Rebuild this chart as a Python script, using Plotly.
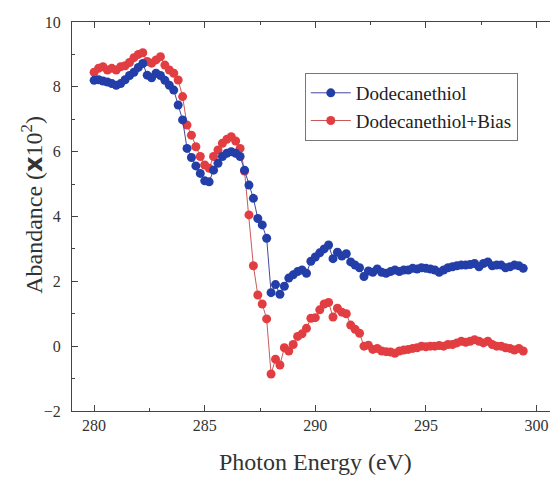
import plotly.graph_objects as go

energy = [280.0, 280.2, 280.4, 280.6, 280.8, 281.0, 281.2, 281.4, 281.6, 281.8,
          282.0, 282.2, 282.4, 282.6, 282.8, 283.0, 283.2, 283.4, 283.6, 283.8,
          284.0, 284.2, 284.4, 284.6, 284.8, 285.0, 285.2, 285.4, 285.6, 285.8,
          286.0, 286.2, 286.4, 286.6, 286.8, 287.0, 287.2, 287.4, 287.6, 287.8,
          288.0, 288.2, 288.4, 288.6, 288.8, 289.0, 289.2, 289.4, 289.6, 289.8,
          290.0, 290.2, 290.4, 290.6, 290.8, 291.0, 291.2, 291.4, 291.6, 291.8,
          292.0, 292.2, 292.4, 292.6, 292.8, 293.0, 293.2, 293.4, 293.6, 293.8,
          294.0, 294.2, 294.4, 294.6, 294.8, 295.0, 295.2, 295.4, 295.6, 295.8,
          296.0, 296.2, 296.4, 296.6, 296.8, 297.0, 297.2, 297.4, 297.6, 297.8,
          298.0, 298.2, 298.4, 298.6, 298.8, 299.0, 299.2, 299.4]

dodecanethiol = [8.20, 8.22, 8.18, 8.15, 8.10, 8.05, 8.10, 8.22, 8.35, 8.45,
                 8.60, 8.72, 8.36, 8.28, 8.42, 8.35, 8.20, 8.05, 7.90, 7.44,
                 6.98, 6.10, 5.82, 5.56, 5.33, 5.10, 5.07, 5.43, 5.64, 5.85,
                 5.95, 6.00, 5.95, 5.85, 5.43, 4.97, 4.56, 3.94, 3.74, 3.33,
                 1.65, 1.90, 1.60, 1.85, 2.10, 2.20, 2.30, 2.35, 2.25, 2.62,
                 2.75, 2.88, 3.00, 3.12, 2.70, 2.90, 2.78, 2.85, 2.60, 2.50,
                 2.42, 2.15, 2.32, 2.28, 2.38, 2.28, 2.25, 2.30, 2.35, 2.30,
                 2.35, 2.35, 2.40, 2.38, 2.42, 2.40, 2.38, 2.35, 2.28, 2.35,
                 2.42, 2.45, 2.48, 2.50, 2.50, 2.52, 2.55, 2.45, 2.55, 2.60,
                 2.48, 2.50, 2.50, 2.42, 2.45, 2.50, 2.48, 2.40]

dodecanethiol_bias = [8.45, 8.57, 8.62, 8.52, 8.57, 8.52, 8.62, 8.65, 8.75, 8.90,
                      9.00, 9.05, 8.78, 8.73, 8.83, 8.93, 8.67, 8.52, 8.42, 8.21,
                      7.70, 6.82, 6.51, 6.15, 5.85, 5.59, 5.49, 5.85, 6.05, 6.26,
                      6.38, 6.46, 6.33, 6.10, 5.40, 4.05, 2.48, 1.58, 1.30, 0.84,
                      -0.86, -0.40, -0.58, -0.05, -0.15, 0.05, 0.30, 0.38, 0.55, 0.86,
                      0.88, 1.12, 1.30, 1.35, 0.90, 1.17, 1.05, 1.00, 0.65, 0.52,
                      0.40, 0.00, 0.03, -0.10, -0.07, -0.15, -0.17, -0.18, -0.22, -0.15,
                      -0.12, -0.10, -0.07, -0.05, 0.00, -0.02, 0.00, 0.00, 0.02, 0.00,
                      0.05, 0.05, 0.10, 0.15, 0.12, 0.15, 0.20, 0.15, 0.10, 0.15,
                      0.05, 0.00, 0.00, -0.05, -0.07, -0.12, -0.07, -0.15]

x_ticks = [280, 285, 290, 295, 300]
y_ticks = [-2, 0, 2, 4, 6, 8, 10]

BLUE = "rgb(35,62,168)"
RED = "rgb(226,62,66)"
SERIF = "Liberation Serif"

fig = go.Figure()
fig.add_trace(go.Scatter(
    x=energy, y=dodecanethiol_bias, mode="lines+markers",
    name="Dodecanethiol+Bias", legendrank=2,
    line=dict(color="rgb(200,90,90)", width=1),
    marker=dict(color=RED, size=9, line=dict(width=0)),
))
fig.add_trace(go.Scatter(
    x=energy, y=dodecanethiol, mode="lines+markers",
    name="Dodecanethiol", legendrank=1,
    line=dict(color="rgb(70,70,160)", width=1),
    marker=dict(color=BLUE, size=9, line=dict(width=0)),
))

axis_common = dict(
    showgrid=False, zeroline=False, showline=True, linecolor="#444", linewidth=1,
    ticks="inside", ticklen=6, tickcolor="#444", tickwidth=1,
    tickfont=dict(family=SERIF, size=16, color="#333"),
)

fig.update_layout(
    width=550, height=477,
    margin=dict(l=72, r=0, t=22, b=66),
    paper_bgcolor="white", plot_bgcolor="white",
    showlegend=True,
    legend=dict(
        x=0.487, y=0.869, xanchor="left", yanchor="top",
        bordercolor="#777", borderwidth=1, bgcolor="white",
        font=dict(family=SERIF, size=19, color="#222"),
        tracegroupgap=0, itemwidth=40,
    ),
    xaxis=dict(
        range=[279, 300.61], tickvals=x_ticks, mirror="ticks",
        minor=dict(dtick=2.5, tick0=277.5, ticks="inside", ticklen=3, tickcolor="#444"),
        **axis_common,
    ),
    yaxis=dict(
        range=[-2, 10], tickvals=y_ticks, mirror=False, ticklabelstandoff=7,
        minor=dict(dtick=1, tick0=-1, ticks="inside", ticklen=3, tickcolor="#444"),
        **axis_common,
    ),
    annotations=[
        dict(x=290, y=-0.131, xref="x", yref="paper", xanchor="center", yanchor="middle",
             showarrow=False, text="Photon Energy (eV)",
             font=dict(family=SERIF, size=24, color="#333")),
        dict(x=-0.0816, y=0.53, xref="paper", yref="paper", xanchor="center", yanchor="middle",
             showarrow=False, textangle=-90,
             text="Abandance (<span style='font-family:DejaVu Sans'><b>x</b></span>10<sup>2</sup>)",
             font=dict(family=SERIF, size=24, color="#333")),
    ],
)

fig.write_html("out.html")
